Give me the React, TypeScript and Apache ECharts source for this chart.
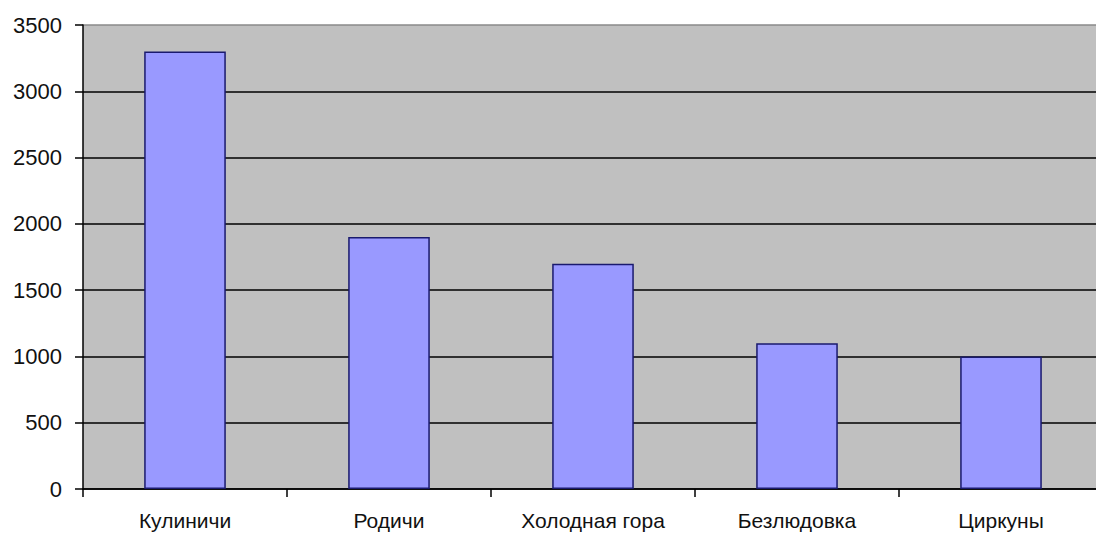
import React, { useEffect, useRef } from "react";
import * as echarts from "echarts";

const categories = ["Кулиничи", "Родичи", "Холодная гора", "Безлюдовка", "Циркуны"];
const values = [3300, 1900, 1700, 1100, 1000];
const yMin = 0;
const yMax = 3500;
const yStep = 500;

export default function App() {
  const ref = useRef<HTMLDivElement>(null);
  useEffect(() => {
    if (!ref.current) return;
    const chart = echarts.init(ref.current, null, { renderer: "svg" });
    chart.setOption({
      animation: false,
      backgroundColor: "#ffffff",
      textStyle: { fontFamily: "Liberation Sans, Arial, sans-serif" },
      grid: {
        left: 83,
        top: 25,
        width: 1020,
        height: 464,
        show: true,
        backgroundColor: "#c0c0c0",
        borderWidth: 0,
      },
      xAxis: {
        type: "category",
        data: categories,
        axisLine: { show: true, lineStyle: { color: "#000", width: 1.5 } },
        axisTick: { show: true, length: 8, alignWithLabel: false, lineStyle: { color: "#000", width: 1.5 } },
        axisLabel: { color: "#111", fontSize: 21, margin: 21, interval: 0 },
        splitLine: { show: false },
      },
      yAxis: {
        type: "value",
        min: yMin,
        max: yMax,
        interval: yStep,
        axisLine: { show: true, lineStyle: { color: "#000", width: 1.5 } },
        axisTick: { show: true, length: 8, lineStyle: { color: "#000", width: 1.5 } },
        axisLabel: { color: "#111", fontSize: 22, margin: 21, formatter: (v: number) => String(v) },
        splitLine: {
          show: true,
          lineStyle: {
            color: ["#000", "#000", "#000", "#000", "#000", "#000", "#000", "#8a8a8a"],
            width: 1.5,
          },
        },
      },
      series: [
        {
          type: "bar",
          data: values,
          barWidth: "40%",
          itemStyle: { color: "#9999ff", borderColor: "#1a1a6e", borderWidth: 1.5 },
        },
      ],
    });
    return () => chart.dispose();
  }, []);
  return (
    <div style={{ position: "fixed", left: 0, top: 0, width: 1096, height: 534, overflow: "hidden" }}>
      <div ref={ref} style={{ width: 1120, height: 534 }} />
    </div>
  );
}
